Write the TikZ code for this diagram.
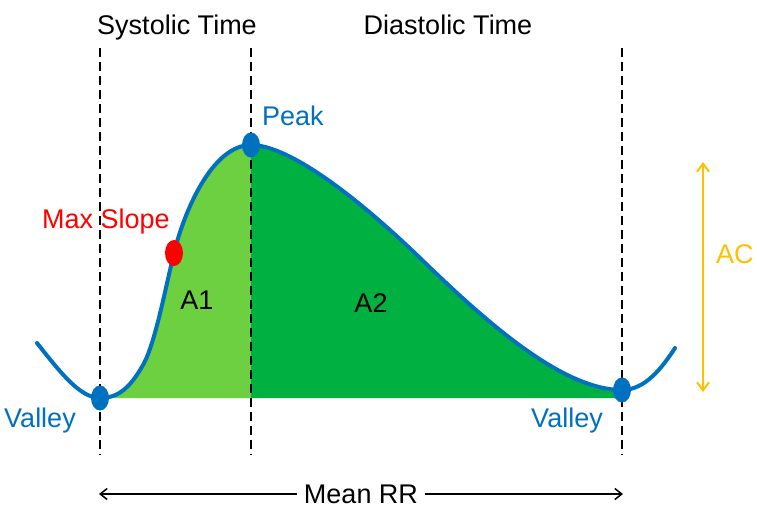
\documentclass[tikz,border=0pt]{standalone}
\usepackage{fontspec}
\setmainfont{Liberation Sans}
\usetikzlibrary{arrows.meta,shapes.geometric}

\definecolor{waveblue}{RGB}{0,112,192}
\definecolor{sysgreen}{RGB}{108,208,64}
\definecolor{diagreen}{RGB}{0,176,64}
\definecolor{acyellow}{RGB}{255,192,0}

\tikzset{
  lbl/.style={font=\fontsize{27}{31}\selectfont, inner sep=0pt},
  wave/.style={draw=waveblue, line width=4pt, line cap=round},
  dot/.style={ellipse, fill=waveblue, inner sep=0pt,
              minimum width=18pt, minimum height=25pt},
  timeline/.style={draw=black, line width=2pt, dash pattern=on 9pt off 5pt},
  rrarrow/.style={draw=black, line width=1.5pt,
                  -{Straight Barb[length=7pt,width=11pt]}},
  acarrow/.style={draw=acyellow, line width=2pt,
                  {Straight Barb[length=8pt,width=12pt]}-{Straight Barb[length=8pt,width=12pt]}}
}

\begin{document}
\begin{tikzpicture}[x=1pt,y=-1pt]
  \useasboundingbox (0,0) rectangle (757,509);

  % key points of the pulse wave
  \coordinate (vL) at (100,398);   % left valley
  \coordinate (ms) at (174,253);   % max slope
  \coordinate (pk) at (251,145);   % peak
  \coordinate (vR) at (622,390);   % right valley

  % systolic area A1
  \fill[sysgreen] (vL) .. controls (118,398) and (130,388) .. (143,365)
        .. controls (155,344) and (165,290) .. (ms)
        .. controls (184,212) and (212,145) .. (pk) -- (251,398) -- cycle;

  % diastolic area A2
  \fill[diagreen] (pk) .. controls (290,145) and (360,200) .. (420,258)
        .. controls (480,316) and (560,390) .. (vR) -- (622,398) -- (251,398) -- cycle;

  % time markers
  \coordinate (sysT) at (100,48);  \coordinate (sysB) at (100,455);
  \coordinate (pkT)  at (251,48);  \coordinate (pkB)  at (251,455);
  \coordinate (diaT) at (622,48);  \coordinate (diaB) at (622,455);
  \draw[timeline] (sysT) -- (sysB);
  \draw[timeline] (pkT) -- (pkB);
  \draw[timeline] (diaT) -- (diaB);

  % the wave itself
  \draw[wave] (37,343) .. controls (60,372) and (80,398) .. (vL)
        .. controls (118,398) and (130,388) .. (143,365)
        .. controls (155,344) and (165,290) .. (ms)
        .. controls (184,212) and (212,145) .. (pk)
        .. controls (290,145) and (360,200) .. (420,258)
        .. controls (480,316) and (560,390) .. (vR)
        .. controls (645,390) and (662,368) .. (675,348);

  % markers on the wave
  \node[dot] (vLdot) at (vL) {};
  \node[dot] (pkdot) at (pk) {};
  \node[dot] (vRdot) at (vR) {};
  \node[dot, fill=red, minimum width=18pt, minimum height=26pt] (msdot) at (ms) {};

  % labels
  \node[lbl, anchor=base] (systxt) at (177,34) {Systolic Time};
  \node[lbl, anchor=base] (diatxt) at (448,34) {Diastolic Time};
  \node[lbl, anchor=base west, text=waveblue] (pktxt) at (262,125) {Peak};
  \node[lbl, anchor=base east, text=red] (mstxt) at (170,228) {Max Slope};
  \node[lbl, anchor=base] (a1txt) at (197,309) {A1};
  \node[lbl, anchor=base] (a2txt) at (371,312) {A2};
  \node[lbl, anchor=base, text=waveblue] (vLtxt) at (40,427) {Valley};
  \node[lbl, anchor=base, text=waveblue] (vRtxt) at (567,427) {Valley};

  % amplitude AC
  \coordinate (acT) at (703,162);
  \coordinate (acB) at (703,392);
  \draw[acarrow] (acT) -- (acB);
  \node[lbl, anchor=base west, text=acyellow] (actxt) at (716,263) {AC};

  % mean RR interval
  \coordinate (rrL) at (99,494);
  \coordinate (rrR) at (623,494);
  \node[lbl, inner xsep=7pt] (rrtxt) at (361,494) {Mean RR};
  \draw[rrarrow] (rrtxt.west) -- (rrL);
  \draw[rrarrow] (rrtxt.east) -- (rrR);
\end{tikzpicture}
\end{document}
